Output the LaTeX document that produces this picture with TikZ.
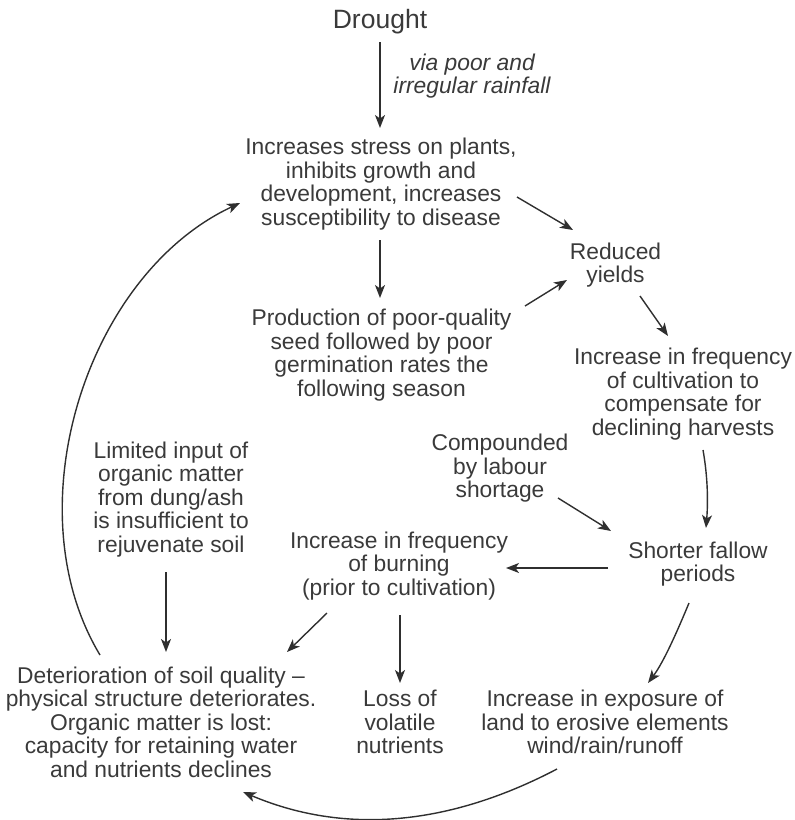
\documentclass[tikz,border=0pt]{standalone}
\usepackage{fontspec}
\setmainfont{Liberation Sans}
\usetikzlibrary{arrows.meta}
\definecolor{ink}{HTML}{2F2F2F}
\definecolor{txtc}{HTML}{3A3A3A}
\begin{document}
\begin{tikzpicture}[x=1pt,y=-1pt,
  lbl/.style={align=center, inner sep=0pt, text=txtc,
    font=\fontsize{22.8}{23.5}\selectfont,
    execute at begin node=\strut, execute at end node=\strut},
  arr/.style={draw=ink, line width=1.4pt,
    -{Stealth[length=13pt,width=10pt,inset=3.5pt]}}]
\useasboundingbox (0,0) rectangle (795,820);

% text blocks
\node[lbl, font=\fontsize{26.5}{28}\selectfont] (drought) at (380,22.4) {Drought};
\node[lbl, font=\fontsize{22.8}{23.5}\selectfont\itshape] (via) at (472,77.3)
  {via poor and\\irregular rainfall};
\node[lbl] (stress) at (381,185.3)
  {Increases stress on plants,\\inhibits growth and\\development, increases\\susceptibility to disease};
\node[lbl] (seed) at (381.5,356.3)
  {Production of poor-quality\\seed followed by poor\\germination rates the\\following season};
\node[lbl] (yields) at (615.5,266.3) {Reduced\\yields};
\node[lbl] (cultiv) at (683,395.5)
  {Increase in frequency\\of cultivation to\\compensate for\\declining harvests};
\node[lbl] (labour) at (500,469.3) {Compounded\\by labour\\shortage};
\node[lbl] (fallow) at (698,565.3) {Shorter fallow\\periods};
\node[lbl] (burn) at (399,567)
  {Increase in frequency\\of burning\\(prior to cultivation)};
\node[lbl] (dung) at (171,500.3)
  {Limited input of\\organic matter\\from dung/ash\\is insufficient to\\rejuvenate soil};
\node[lbl] (soil) at (161,725.3)
  {Deterioration of soil quality –\\physical structure deteriorates.\\Organic matter is lost:\\capacity for retaining water\\and nutrients declines};
\node[lbl] (loss) at (400,725.6) {Loss of\\volatile\\nutrients};
\node[lbl] (expo) at (605,725.6)
  {Increase in exposure of\\land to erosive elements\\wind/rain/runoff};

% connectors
\draw[arr] ([shift={(0,19.6)}]drought.center) -- ([shift={(-1,-57.3)}]stress.center);
\draw[arr] ([shift={(136,11.7)}]stress.center) -- ([shift={(-42.5,-36.3)}]yields.center);
\draw[arr] ([shift={(-1,54.7)}]stress.center) -- ([shift={(-1.5,-58.3)}]seed.center);
\draw[arr] ([shift={(143.5,-50.3)}]seed.center) -- ([shift={(-48.5,13.7)}]yields.center);
\draw[arr] ([shift={(24.5,29.7)}]yields.center) -- ([shift={(-15,-59.5)}]cultiv.center);
\draw[arr] ([shift={(20,54.5)}]cultiv.center) .. controls +(5,28) and +(2,-25) .. ([shift={(8,-37.3)}]fallow.center);
\draw[arr] ([shift={(58,28.7)}]labour.center) -- ([shift={(-87,-34.3)}]fallow.center);
\draw[arr] ([shift={(-90,2.7)}]fallow.center) -- ([shift={(107,1)}]burn.center);
\draw[arr] ([shift={(-72,46)}]burn.center) -- ([shift={(126,-73.3)}]soil.center);
\draw[arr] ([shift={(1,48)}]burn.center) -- ([shift={(0,-42.6)}]loss.center);
\draw[arr] ([shift={(-5,71.7)}]dung.center) -- ([shift={(5,-73.3)}]soil.center);
\draw[arr] ([shift={(-9,37.7)}]fallow.center) .. controls +(-10.3,24.8) and +(16.2,-21.6) .. ([shift={(43,-42.6)}]expo.center);
\draw[arr] ([shift={(-48,43.4)}]expo.center) .. controls +(-97.4,51.2) and +(110.4,46.8) .. ([shift={(82,66.7)}]soil.center);
\draw[arr] ([shift={(-61,-70.3)}]soil.center) .. controls +(-87.7,-145.7) and +(-154,72) .. ([shift={(-141,17.7)}]stress.center);
\end{tikzpicture}
\end{document}
